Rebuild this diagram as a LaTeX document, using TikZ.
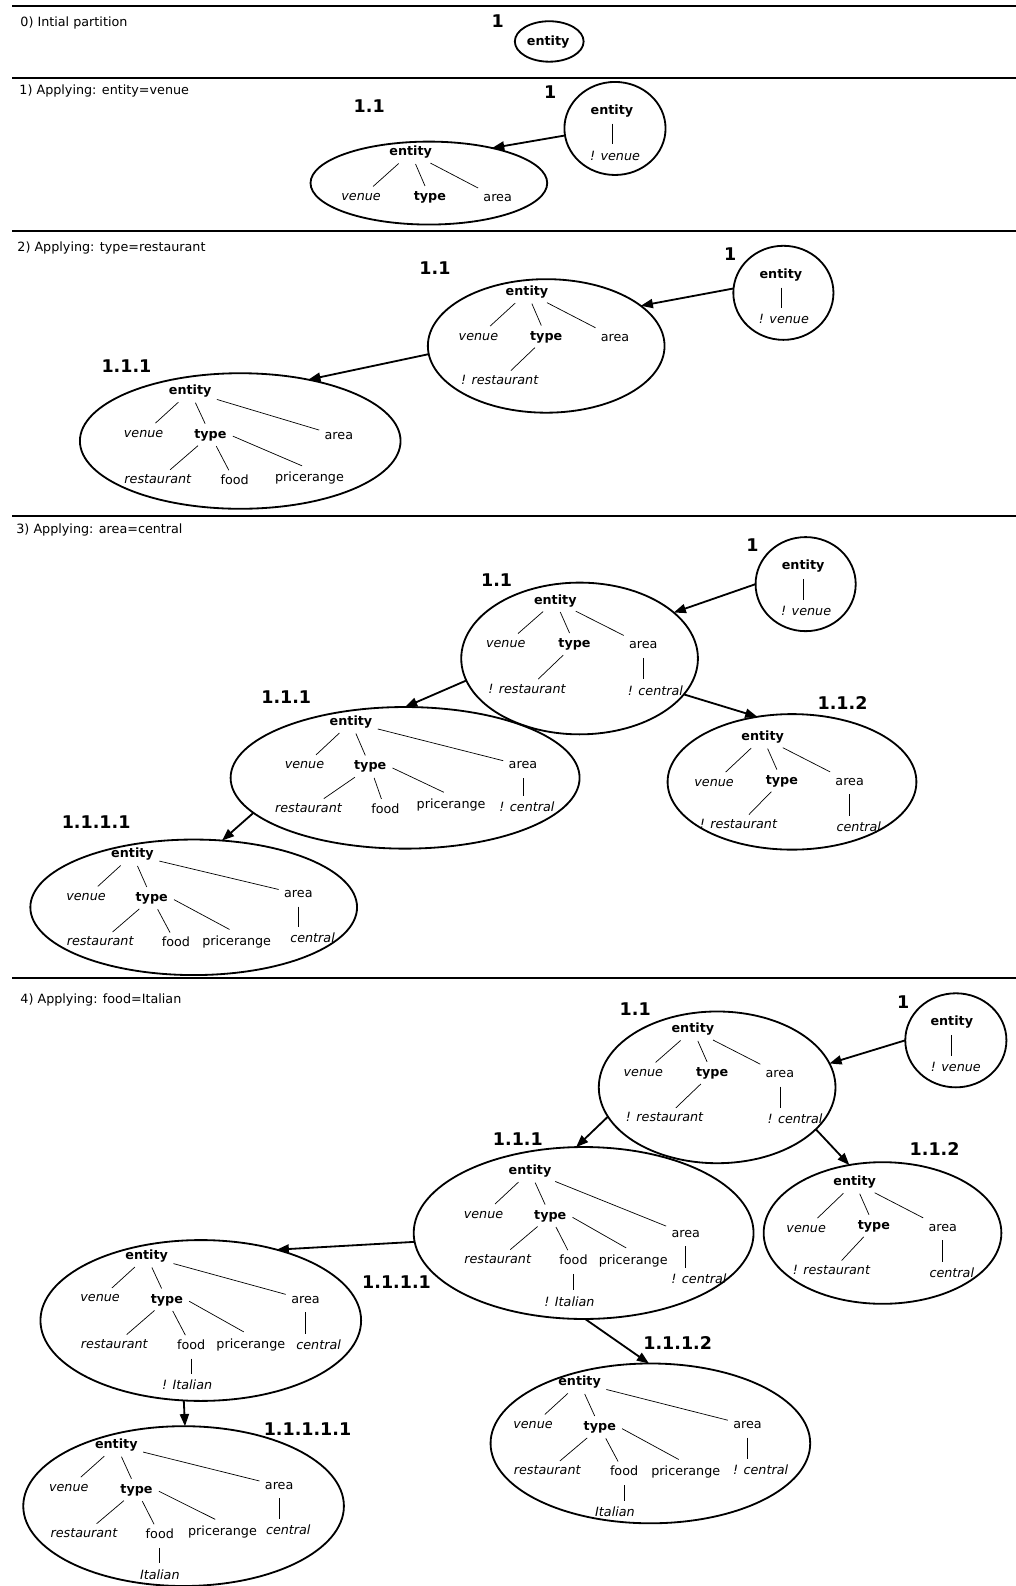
\documentclass[tikz,border=0pt]{standalone}
\usepackage{fontspec}
\setmainfont{DejaVu Sans}
\usetikzlibrary{shapes.geometric,arrows.meta}
\newcommand\myfs{\fontsize{12.6pt}{15pt}\selectfont}
\newcommand\mylf{\fontsize{17.3pt}{20pt}\selectfont\bfseries}
\newcommand\tkE[2]{\draw[tedge, shorten <=2pt, shorten >=2pt] (#1) -- (#2);}
\newcommand\tkV[2]{\draw[tedge, shorten <=3pt, shorten >=3pt] (#1.south) -- (#1.south |- #2.north);}
\newcommand\tkP[2]{\draw[tedge, shorten <=3pt, shorten >=8pt] (#1.east) -- (#2.north);}
\tikzset{
 txn/.style={inner sep=1.5pt, outer sep=2pt, text height=9pt, text depth=2.6pt, font=\myfs, yshift=-2pt},
 txb/.style={txn, font=\myfs\bfseries},
 txi/.style={txn, font=\myfs\itshape},
 ell/.style={ellipse, draw, line width=1.8pt, inner sep=0pt, outer sep=0pt},
 lab/.style={font=\mylf, inner sep=0pt},
 tedge/.style={line width=0.7pt},
 arr/.style={line width=1.8pt, -{Triangle[length=12pt,width=9pt]}},
 rule/.style={line width=2pt},
 hdr/.style={anchor=west, font=\myfs, inner sep=0pt, yshift=-2pt},
}
\begin{document}
\begin{tikzpicture}[x=1pt,y=-1pt]
\useasboundingbox (0,0) rectangle (1004,1568);
\fill[white] (0,0) rectangle (1004,1568);
% rules
\draw[rule] (12,6) -- (1004,6);
\draw[rule] (12,77) -- (1004,77);
\draw[rule] (12,228) -- (1004,228);
\draw[rule] (12,510) -- (1004,510);
\draw[rule] (12,967) -- (1004,967);
% headers
\node[hdr] (H0) at (20,21) {0) Intial partition};
\node[hdr] (H1) at (19,88) {1) Applying: entity=venue};
\node[hdr] (H2) at (17,243) {2) Applying: type=restaurant};
\node[hdr] (H3) at (16,522) {3) Applying: area=central};
\node[hdr] (H4) at (20,987) {4) Applying: food=Italian};

% ===== section 0
\node[lab] (Zl) at (492,21) {1};
\node[ell, minimum width=68pt, minimum height=40pt] (Z) at (543,41) {};
\node[txb] (Zen) at (542,40) {entity};

% ===== section 1
\node[lab] (R1l) at (544,91) {1};
\node[ell, minimum width=100pt, minimum height=92pt] (R1) at (608,127) {};
\node[txb] (R1en) at (605,108) {entity};
\node[txi] (R1nv) at (608,153) {! venue};
\tkV{R1en}{R1nv}

\node[lab] (Al) at (365,105) {1.1};
\node[ell, minimum width=234pt, minimum height=82pt] (A) at (424,181) {};
\node[txb] (Aen) at (406,149) {entity};
\node[txi] (Ave) at (357,193) {venue};
\node[txb] (Aty) at (425,193) {type};
\node[txn] (Aar) at (492,194) {area};
\tkE{Aen}{Ave}\tkE{Aen}{Aty}\tkE{Aen}{Aar}
\draw[arr] (R1.188) -- (A.29);

% ===== section 2
\node[lab] (R2l) at (722,251) {1};
\node[ell, minimum width=99pt, minimum height=93pt] (R2) at (774.5,289.5) {};
\node[txb] (R2en) at (772,270) {entity};
\node[txi] (R2nv) at (775,315) {! venue};
\tkV{R2en}{R2nv}

\node[lab] (Bl) at (430,265) {1.1};
\node[ell, minimum width=234pt, minimum height=132pt] (B) at (540,342) {};
\node[txb] (Ben) at (521,287) {entity};
\node[txi] (Bve) at (473,331) {venue};
\node[txb] (Bty) at (540,331) {type};
\node[txn] (Bar) at (608,332) {area};
\node[txi] (Bnr) at (494,375) {! restaurant};
\tkE{Ben}{Bve}\tkE{Ben}{Bty}\tkE{Ben}{Bar}\tkE{Bty}{Bnr}

\node[lab] (Cl) at (125,362) {1.1.1};
\node[ell, minimum width=317pt, minimum height=134pt] (C) at (237.5,436) {};
\node[txb] (Cen) at (188,385) {entity};
\node[txi] (Cve) at (142,427) {venue};
\node[txb] (Cty) at (208,428) {type};
\node[txn] (Car) at (335,429) {area};
\node[txi] (Cre) at (156,473) {restaurant};
\node[txn] (Cfo) at (232,474) {food};
\node[txn] (Cpr) at (306,471) {pricerange};
\tkE{Cen}{Cve}\tkE{Cen}{Cty}\tkE{Cen}{Car}\tkE{Cty}{Cre}\tkE{Cty}{Cfo}\tkP{Cty}{Cpr}
\draw[arr] (R2.175) -- (B.23);
\draw[arr] (B.184) -- (C.42);

% ===== section 3
\node[lab] (R3l) at (744,539) {1};
\node[ell, minimum width=99pt, minimum height=93pt] (R3) at (796.5,577.5) {};
\node[txb] (R3en) at (794,558) {entity};
\node[txi] (R3nv) at (797,603) {! venue};
\tkV{R3en}{R3nv}

\node[lab] (Dl) at (491,574) {1.1};
\node[ell, minimum width=234pt, minimum height=150pt] (D) at (573,651) {};
\node[txb] (Den) at (549,592) {entity};
\node[txi] (Dve) at (500,635) {venue};
\node[txb] (Dty) at (568,635) {type};
\node[txn] (Dar) at (636,636) {area};
\node[txi] (Dnr) at (521,680) {! restaurant};
\node[txi] (Dnc) at (648,682) {! central};
\tkE{Den}{Dve}\tkE{Den}{Dty}\tkE{Den}{Dar}\tkE{Dty}{Dnr}\tkV{Dar}{Dnc}

\node[lab] (El) at (283,689) {1.1.1};
\node[ell, minimum width=345pt, minimum height=140pt] (E) at (400.5,769) {};
\node[txb] (Een) at (347,712) {entity};
\node[txi] (Eve) at (301,755) {venue};
\node[txb] (Ety) at (366,756) {type};
\node[txn] (Ear) at (517,755) {area};
\node[txi] (Ere) at (305,798) {restaurant};
\node[txn] (Efo) at (381,799) {food};
\node[txn] (Epr) at (446,794) {pricerange};
\node[txi] (Enc) at (521,797) {! central};
\tkE{Een}{Eve}\tkE{Een}{Ety}\tkE{Een}{Ear}\tkE{Ety}{Ere}\tkE{Ety}{Efo}\tkP{Ety}{Epr}\tkV{Ear}{Enc}

\node[lab] (Fl) at (833,695) {1.1.2};
\node[ell, minimum width=246pt, minimum height=134pt] (F) at (783,773) {};
\node[txb] (Fen) at (754,727) {entity};
\node[txi] (Fve) at (706,772) {venue};
\node[txb] (Fty) at (773,770) {type};
\node[txn] (Far) at (840,771) {area};
\node[txi] (Fnr) at (730,814) {! restaurant};
\node[txi] (Fce) at (849,817) {central};
\tkE{Fen}{Fve}\tkE{Fen}{Fty}\tkE{Fen}{Far}\tkE{Fty}{Fnr}\tkV{Far}{Fce}

\node[lab] (Gl) at (95,813) {1.1.1.1};
\node[ell, minimum width=323pt, minimum height=134pt] (G) at (191.5,897) {};
\node[txb] (Gen) at (131,843) {entity};
\node[txi] (Gve) at (85,885) {venue};
\node[txb] (Gty) at (150,886) {type};
\node[txn] (Gar) at (295,882) {area};
\node[txi] (Gre) at (99,930) {restaurant};
\node[txn] (Gfo) at (174,931) {food};
\node[txn] (Gpr) at (234,930) {pricerange};
\node[txi] (Gce) at (309,927) {central};
\tkE{Gen}{Gve}\tkE{Gen}{Gty}\tkE{Gen}{Gar}\tkE{Gty}{Gre}\tkE{Gty}{Gfo}\tkP{Gty}{Gpr}\tkV{Gar}{Gce}

\draw[arr] (R3.180) -- (D.26);
\draw[arr] (D.191) -- (E.90);
\draw[arr] (D.341) -- (F.118);
\draw[arr] (E.193) -- (G.67);

% ===== section 4
\node[lab] (R4l) at (893,991) {1};
\node[ell, minimum width=100pt, minimum height=93pt] (R4) at (945,1028.5) {};
\node[txb] (R4en) at (941,1009) {entity};
\node[txi] (R4nv) at (945,1054) {! venue};
\tkV{R4en}{R4nv}

\node[lab] (Hl) at (628,998) {1.1};
\node[ell, minimum width=234pt, minimum height=150pt] (H) at (709,1075) {};
\node[txb] (Hen) at (685,1016) {entity};
\node[txi] (Hve) at (636,1059) {venue};
\node[txb] (Hty) at (704,1059) {type};
\node[txn] (Har) at (771,1060) {area};
\node[txi] (Hnr) at (657,1104) {! restaurant};
\node[txi] (Hnc) at (786,1106) {! central};
\tkE{Hen}{Hve}\tkE{Hen}{Hty}\tkE{Hen}{Har}\tkE{Hty}{Hnr}\tkV{Har}{Hnc}

\node[lab] (Il) at (512,1126) {1.1.1};
\node[ell, minimum width=336pt, minimum height=170pt] (I) at (577,1219) {};
\node[txb] (Ien) at (524,1156) {entity};
\node[txi] (Ive) at (478,1199) {venue};
\node[txb] (Ity) at (544,1200) {type};
\node[txn] (Iar) at (678,1218) {area};
\node[txi] (Ire) at (492,1244) {restaurant};
\node[txn] (Ifo) at (567,1245) {food};
\node[txn] (Ipr) at (626,1245) {pricerange};
\node[txi] (Inc) at (691,1264) {! central};
\node[txi] (Ini) at (563,1286) {! Italian};
\tkE{Ien}{Ive}\tkE{Ien}{Ity}\tkE{Ien}{Iar}\tkE{Ity}{Ire}\tkE{Ity}{Ifo}\tkP{Ity}{Ipr}\tkV{Iar}{Inc}\tkV{Ifo}{Ini}

\node[lab] (Jl) at (924,1136) {1.1.2};
\node[ell, minimum width=235pt, minimum height=140pt] (J) at (872.5,1219) {};
\node[txb] (Jen) at (845,1167) {entity};
\node[txi] (Jve) at (797,1213) {venue};
\node[txb] (Jty) at (864,1210) {type};
\node[txn] (Jar) at (932,1212) {area};
\node[txi] (Jnr) at (822,1255) {! restaurant};
\node[txi] (Jce) at (941,1258) {central};
\tkE{Jen}{Jve}\tkE{Jen}{Jty}\tkE{Jen}{Jar}\tkE{Jty}{Jnr}\tkV{Jar}{Jce}

\node[lab] (Kl) at (392,1268) {1.1.1.1};
\node[ell, minimum width=317pt, minimum height=159pt] (K) at (198.5,1305.5) {};
\node[txb] (Ken) at (145,1240) {entity};
\node[txi] (Kve) at (99,1282) {venue};
\node[txb] (Kty) at (165,1283) {type};
\node[txn] (Kar) at (302,1283) {area};
\node[txi] (Kre) at (113,1328) {restaurant};
\node[txn] (Kfo) at (189,1329) {food};
\node[txn] (Kpr) at (248,1328) {pricerange};
\node[txi] (Kce) at (315,1329) {central};
\node[txi] (Kni) at (185,1369) {! Italian};
\tkE{Ken}{Kve}\tkE{Ken}{Kty}\tkE{Ken}{Kar}\tkE{Kty}{Kre}\tkE{Kty}{Kfo}\tkP{Kty}{Kpr}\tkV{Kar}{Kce}\tkV{Kfo}{Kni}

\node[lab] (Ll) at (670,1328) {1.1.1.2};
\node[ell, minimum width=316pt, minimum height=158pt] (L) at (643,1427) {};
\node[txb] (Len) at (573,1365) {entity};
\node[txi] (Lve) at (527,1407) {venue};
\node[txb] (Lty) at (593,1409) {type};
\node[txn] (Lar) at (739,1407) {area};
\node[txi] (Lre) at (541,1453) {restaurant};
\node[txn] (Lfo) at (617,1454) {food};
\node[txn] (Lpr) at (678,1454) {pricerange};
\node[txi] (Lnc) at (752,1453) {! central};
\node[txi] (Lit) at (608,1494) {Italian};
\tkE{Len}{Lve}\tkE{Len}{Lty}\tkE{Len}{Lar}\tkE{Lty}{Lre}\tkE{Lty}{Lfo}\tkP{Lty}{Lpr}\tkV{Lar}{Lnc}\tkV{Lfo}{Lit}

\node[lab] (Ml) at (304,1413) {1.1.1.1.1};
\node[ell, minimum width=317pt, minimum height=158pt] (M) at (181.5,1489) {};
\node[txb] (Men) at (115,1427) {entity};
\node[txi] (Mve) at (68,1469) {venue};
\node[txb] (Mty) at (135,1471) {type};
\node[txn] (Mar) at (276,1467) {area};
\node[txi] (Mre) at (83,1515) {restaurant};
\node[txn] (Mfo) at (158,1516) {food};
\node[txn] (Mpr) at (220,1513) {pricerange};
\node[txi] (Mce) at (285,1512) {central};
\node[txi] (Mit) at (158,1556) {Italian};
\tkE{Men}{Mve}\tkE{Men}{Mty}\tkE{Men}{Mar}\tkE{Mty}{Mre}\tkE{Mty}{Mfo}\tkP{Mty}{Mpr}\tkV{Mar}{Mce}\tkV{Mfo}{Mit}

\draw[arr] (R4.180) -- (H.12);
\draw[arr] (H.195) -- (I.95);
\draw[arr] (H.337) -- (J.116);
\draw[arr] (I.183) -- (K.43);
\draw[arr] (I.271) -- (L.91);
\draw[arr] (K.258) -- (M.89);
\end{tikzpicture}
\end{document}
